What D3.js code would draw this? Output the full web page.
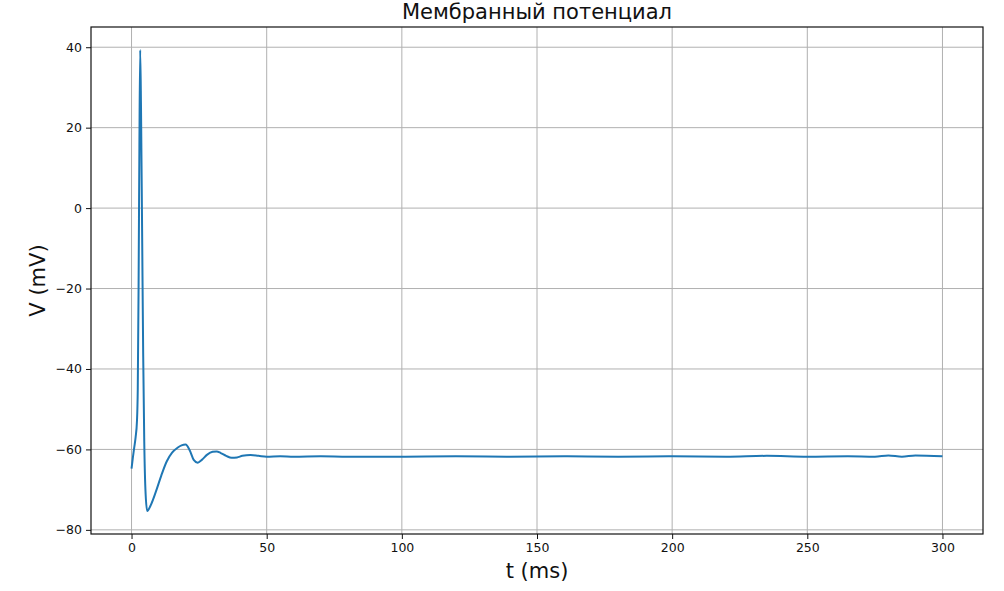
<!DOCTYPE html>
<html>
<head>
<meta charset="utf-8">
<script src="https://cdn.jsdelivr.net/npm/d3@7"></script>
<style>
  body { margin: 0; background: #fff; }
  text { font-family: "DejaVu Sans", sans-serif; }
</style>
</head>
<body>
<div id="chart"></div>
<script>
// membrane potential trace
var tValues = [0, 0.5, 1.0, 1.5, 2.0, 2.3, 2.6, 2.9, 3.2, 3.5, 3.9, 4.3, 4.7, 5.2, 5.8,
  7, 9, 11, 13, 15, 17, 18.5, 20, 21.5, 23, 24.5, 26, 28, 30, 31.5, 33, 35, 37, 39, 41, 44, 47, 50,
  55, 60, 70, 80, 100, 120, 140, 160, 180, 200, 220, 235, 250, 265, 275, 280, 285, 290, 300];
var vValues = [-64.8, -62, -59.5, -57, -53, -45, -20, 15, 39.3, 25, -5, -36, -58, -71, -75.3,
  -74, -70.5, -66.5, -63, -60.8, -59.6, -59, -58.8, -60.2, -62.6, -63.3, -62.6, -61.3, -60.6, -60.5, -60.9, -61.6, -62.1, -62, -61.6, -61.4, -61.6, -61.8,
  -61.7, -61.8, -61.7, -61.8, -61.8, -61.7, -61.8, -61.7, -61.8, -61.7, -61.8, -61.6, -61.8, -61.7, -61.8, -61.5, -61.8, -61.5, -61.7];
var xTicks = [0, 50, 100, 150, 200, 250, 300];
var yTicks = [-80, -60, -40, -20, 0, 20, 40];

var data = tValues.map(function(t, i) { return {t: t, v: vValues[i]}; });

var W = 1004, H = 591;
var margin = {top: 27, right: 21, bottom: 57, left: 91};
var width = W - margin.left - margin.right,
    height = H - margin.top - margin.bottom;

// matplotlib style 5% padding
var tExt = d3.extent(tValues), vExt = d3.extent(vValues);
var tPad = (tExt[1] - tExt[0]) * 0.05, vPad = (vExt[1] - vExt[0]) * 0.05;

var x = d3.scaleLinear().domain([tExt[0] - tPad, tExt[1] + tPad]).range([0, width]);
var y = d3.scaleLinear().domain([vExt[0] - vPad, vExt[1] + vPad]).range([height, 0]);

var svg = d3.select("#chart").append("svg")
    .attr("width", W)
    .attr("height", H);

var g = svg.append("g")
    .attr("transform", "translate(" + margin.left + "," + margin.top + ")");

// grid
g.append("g").selectAll("line.gx")
    .data(xTicks).enter().append("line")
    .attr("x1", function(d) { return x(d); })
    .attr("x2", function(d) { return x(d); })
    .attr("y1", 0).attr("y2", height)
    .attr("stroke", "#b0b0b0").attr("stroke-width", 1);
g.append("g").selectAll("line.gy")
    .data(yTicks).enter().append("line")
    .attr("y1", function(d) { return y(d); })
    .attr("y2", function(d) { return y(d); })
    .attr("x1", 0).attr("x2", width)
    .attr("stroke", "#b0b0b0").attr("stroke-width", 1);

// the trace
var line = d3.line()
    .x(function(d) { return x(d.t); })
    .y(function(d) { return y(d.v); })
    .curve(d3.curveMonotoneX);

g.append("path")
    .datum(data)
    .attr("fill", "none")
    .attr("stroke", "#1f77b4")
    .attr("stroke-width", 2)
    .attr("stroke-linejoin", "round")
    .attr("d", line);

// axes
var xAxis = g.append("g")
    .attr("transform", "translate(0," + height + ")")
    .call(d3.axisBottom(x).tickValues(xTicks).tickSize(5).tickPadding(4).tickFormat(d3.format("d")));
var yAxis = g.append("g")
    .call(d3.axisLeft(y).tickValues(yTicks).tickSize(5).tickPadding(4)
      .tickFormat(function(d) { return d < 0 ? "\u2212" + Math.abs(d) : d; }));

[xAxis, yAxis].forEach(function(a) {
  a.select(".domain").remove();
  a.selectAll("text").style("font-size", "12.5px").attr("fill", "#111");
  a.selectAll("line").attr("stroke", "#111");
});

// frame
g.append("rect")
    .attr("width", width).attr("height", height)
    .attr("fill", "none").attr("stroke", "#111").attr("stroke-width", 1.2);

// title and labels
svg.append("text")
    .attr("x", margin.left + width / 2)
    .attr("y", 19)
    .style("text-anchor", "middle")
    .style("font-size", "21px")
    .attr("fill", "#111")
    .text("Мембранный потенциал");

svg.append("text")
    .attr("x", margin.left + width / 2)
    .attr("y", 578)
    .style("text-anchor", "middle")
    .style("font-size", "21px")
    .attr("fill", "#111")
    .text("t (ms)");

svg.append("text")
    .attr("transform", "rotate(-90)")
    .attr("x", -(margin.top + height / 2))
    .attr("y", 45)
    .style("text-anchor", "middle")
    .style("font-size", "21px")
    .attr("fill", "#111")
    .text("V (mV)");
</script>
</body>
</html>
